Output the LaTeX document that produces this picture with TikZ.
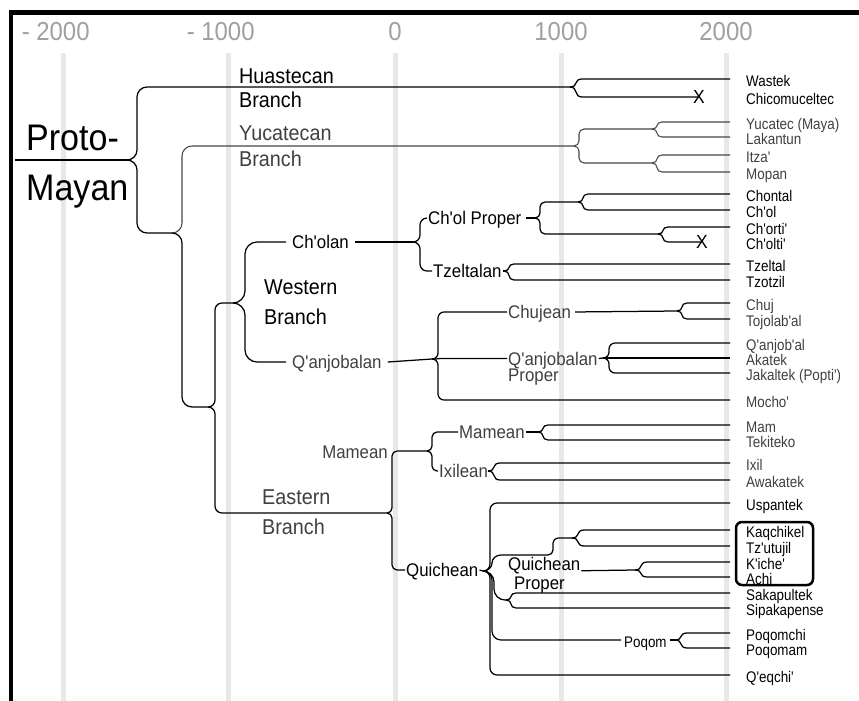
\documentclass[tikz,border=0pt]{standalone}
\usepackage{fontspec}
\setmainfont{Liberation Sans}[FakeStretch=0.92,Ligatures=TeXOff]
\newfontfamily\leaffam{Liberation Sans}[FakeStretch=0.87,Ligatures=TeXOff]
\usetikzlibrary{calc}
\definecolor{gridc}{RGB}{232,232,232}
\definecolor{yearc}{RGB}{160,160,160}
\definecolor{dimc}{RGB}{64,64,64}
\definecolor{dimline}{RGB}{70,70,70}
\newcommand{\leaffont}{\leaffam\fontsize{15.4}{17}\selectfont}
\newcommand{\midfont}{\fontsize{18.3}{20}\selectfont}
\tikzset{
  link/.style={line width=1.25pt, black},
  dimlink/.style={line width=1.05pt, dimline},
  arm/.style={to path={let \p1=(\tikztostart), \p2=(\tikztotarget),
      \n1={#1}, \n2={min(#1,abs(\y2-\y1)/2)}, \n3={sign(\y2-\y1)} in
      .. controls (\x1+0.552*\n1,\y1) and (\x1+\n1,\y1+0.448*\n2*\n3) .. (\x1+\n1,\y1+\n2*\n3)
      -- (\x1+\n1,\y2-\n2*\n3)
      .. controls (\x1+\n1,\y2-0.448*\n2*\n3) and (\x1+1.448*\n1,\y2) .. (\x1+2*\n1,\y2)
      -- (\p2)}},
  arm/.default=6,
  leaf/.style={font=\leaffont, anchor=west, inner sep=0pt, text height=14pt, text depth=0pt},
  tolabel/.style={shorten >=16pt},
  midlabel/.style={font=\midfont, inner ysep=0pt, inner xsep=1pt, text height=13.1pt, text depth=0pt},
  biglabel/.style={font=\fontsize{21.5}{24}\selectfont, align=left, anchor=west, inner sep=0pt},
  year/.style={font=\fontsize{26}{28}\selectfont, text=yearc, inner sep=0pt},
  xmark/.style={font=\fontsize{19}{20}\selectfont, inner sep=0pt},
  gridline/.style={gridc, line width=5pt},
  frameline/.style={black},
}
\begin{document}
\begin{tikzpicture}[x=1pt,y=-1pt]
\useasboundingbox (0,0) rectangle (859,701);
\fill[white] (0,0) rectangle (859,701);
% grid
\foreach \gx in {63,228,395,561,726} \draw[gridline] (\gx,53) -- (\gx,701);
% years
\node[year] (ym2) at (63,32) {\llap{- }2000};
\node[year] (ym1) at (228,32) {\llap{- }1000};
\node[year] (y0) at (395,32) {0};
\node[year] (y1) at (561,32) {1000};
\node[year] (y2) at (726,32) {2000};
% frame
\draw[frameline, line width=5pt] (9,12.5) -- (859,12.5);
\draw[frameline, line width=4pt] (11,10.5) -- (11,701);

% junctions
\coordinate (rs) at (15,160);
\coordinate (R) at (127,160);
\coordinate (H) at (570,87);
\coordinate (A) at (172,233);
\coordinate (Y) at (574,146);
\coordinate (YL) at (652,129);
\coordinate (IM) at (652,163);
\coordinate (B) at (208,407);
\coordinate (W) at (233,303);
\coordinate (C) at (413,242);
\coordinate (CP) at (535,218);
\coordinate (CC) at (578,202);
\coordinate (CO) at (658,234);
\coordinate (T) at (504,271);
\coordinate (Q) at (432,359);
\coordinate (CJ) at (677,311);
\coordinate (QP) at (603,358);
\coordinate (E) at (387,513);
\coordinate (M) at (427,451);
\coordinate (MM) at (538,432);
\coordinate (IX) at (488,471);
\coordinate (QC) at (483,571);
\coordinate (QPJ) at (548,555);
\coordinate (KT) at (572,538);
\coordinate (KA) at (635,570);
\coordinate (SS) at (506,600);
\coordinate (PQ) at (675,640);

% big labels
\node[biglabel, font=\fontsize{37}{50}\selectfont] (proto) at (26,167) {Proto-\\Mayan};
\node[biglabel] (huast) at (239,88) {Huastecan\\Branch};
\node[biglabel, text=dimc, font=\fontsize{21.5}{26}\selectfont] (yuca) at (239,146) {Yucatecan\\Branch};
\node[biglabel, font=\fontsize{21.5}{30}\selectfont] (west) at (264,302) {Western\\Branch};
\node[biglabel, text=dimc, font=\fontsize{21.5}{30}\selectfont] (east) at (262,512) {Eastern\\Branch};

% mid labels
\node[midlabel, inner xsep=6pt, anchor=west] (cholan) at (286,242) {Ch'olan};
\node[midlabel, inner xsep=6pt, anchor=west, text=dimc] (qanjobalan) at (286,362) {Q'anjobalan};
\node[midlabel, anchor=west] (cholproper) at (427,218) {Ch'ol Proper};
\node[midlabel, anchor=west] (tzeltalan) at (432,271) {Tzeltalan};
\node[midlabel, anchor=west, text=dimc] (chujean) at (507,312) {Chujean};
\node[midlabel, anchor=west, text=dimc] (qprop1) at (507,358.5) {Q'anjobalan};
\node[midlabel, anchor=west, text=dimc] (qprop2) at (507,375) {Proper};
\node[midlabel, anchor=east, text=dimc] (mamean1) at (389,452) {Mamean};
\node[midlabel, anchor=west, text=dimc] (mamean2) at (458,432) {Mamean};
\node[midlabel, anchor=west, text=dimc] (ixilean) at (438,471) {Ixilean};
\node[midlabel, anchor=west] (quichean) at (405,570) {Quichean};
\node[midlabel, anchor=west] (qp1) at (507,564) {Quichean};
\node[midlabel, anchor=west] (qp2) at (513,583) {Proper};
\node[leaf, inner xsep=3pt] (poqom) at (621,640) {Poqom};

% X marks
\node[xmark] (X1) at (699,97) {X};
\node[xmark] (X2) at (702,242) {X};

% leaves
\node[leaf] (Lwastek) at (746,79) {Wastek};
\node[leaf] (Lchico) at (746,97) {Chicomuceltec};
\node[leaf, text=dimc] (Lyucatec) at (746,122) {Yucatec (Maya)};
\node[leaf, text=dimc] (Llakantun) at (746,137) {Lakantun};
\node[leaf, text=dimc] (Litza) at (746,155) {Itza'};
\node[leaf, text=dimc] (Lmopan) at (746,172) {Mopan};
\node[leaf] (Lchontal) at (746,194) {Chontal};
\node[leaf] (Lchol) at (746,210) {Ch'ol};
\node[leaf] (Lchorti) at (746,227) {Ch'orti'};
\node[leaf] (Lcholti) at (746,242) {Ch'olti'};
\node[leaf] (Ltzeltal) at (746,264) {Tzeltal};
\node[leaf] (Ltzotzil) at (746,280) {Tzotzil};
\node[leaf, text=dimc] (Lchuj) at (746,303) {Chuj};
\node[leaf, text=dimc] (Ltojolabal) at (746,319) {Tojolab'al};
\node[leaf, text=dimc] (Lqanjobal) at (746,343) {Q'anjob'al};
\node[leaf, text=dimc] (Lakatek) at (746,358) {Akatek};
\node[leaf, text=dimc] (Ljakaltek) at (746,373) {Jakaltek (Popti')};
\node[leaf, text=dimc] (Lmocho) at (746,400) {Mocho'};
\node[leaf, text=dimc] (Lmam) at (746,425) {Mam};
\node[leaf, text=dimc] (Ltekiteko) at (746,440) {Tekiteko};
\node[leaf, text=dimc] (Lixil) at (746,463) {Ixil};
\node[leaf, text=dimc] (Lawakatek) at (746,480) {Awakatek};
\node[leaf] (Luspantek) at (746,503) {Uspantek};
\node[leaf] (Lkaqchikel) at (746,530) {Kaqchikel};
\node[leaf] (Ltzutujil) at (746,546) {Tz'utujil};
\node[leaf] (Lkiche) at (746,562) {K'iche'};
\node[leaf] (Lachi) at (746,577) {Achi};
\node[leaf] (Lsakapultek) at (746,593) {Sakapultek};
\node[leaf] (Lsipakapense) at (746,608) {Sipakapense};
\node[leaf] (Lpoqomchi) at (746,633) {Poqomchi};
\node[leaf] (Lpoqomam) at (746,648) {Poqomam};
\node[leaf] (Lqeqchi) at (746,675) {Q'eqchi'};

% box
\draw[line width=2.5pt, rounded corners=6pt] (736,522) rectangle (813,585);

% connectors
\draw[link] (rs) -- (R);
\draw[link] (R) to[arm=10] (H);
\draw[link] (R) to[arm=10] (A);
\draw[link, tolabel] (H) to[arm=6] (Lwastek.west);
\draw[link] (H) to[arm=6] (X1.center);

\draw[dimlink] (A) to[arm=10] (Y);
\draw[dimlink] (Y) to[arm=5] (YL);
\draw[dimlink] (Y) to[arm=5] (IM);
\draw[dimlink, tolabel] (YL) to[arm=5] (Lyucatec.west);
\draw[dimlink, tolabel] (YL) to[arm=5] (Llakantun.west);
\draw[dimlink, tolabel] (IM) to[arm=5] (Litza.west);
\draw[dimlink, tolabel] (IM) to[arm=5] (Lmopan.west);

\draw[link] (A) to[arm=10] (B);
\draw[link] (B) to[arm=7] (W);
\draw[link] (B) to[arm=7] (E);

\draw[link] (W) to[arm=12] (cholan.west);
\draw[link] (W) to[arm=12] (qanjobalan.west);
\draw[link] (cholan.east) -- (C);
\draw[link] (C) to[arm=7] (cholproper.west);
\draw[link] (C) to[arm=7] (tzeltalan.west);
\draw[link, shorten <=4pt] (cholproper.east) -- (CP);
\draw[link] (CP) to[arm=5] (CC);
\draw[link] (CP) to[arm=5] (CO);
\draw[link, tolabel] (CC) to[arm=5] (Lchontal.west);
\draw[link, tolabel] (CC) to[arm=5] (Lchol.west);
\draw[link, tolabel] (CO) to[arm=5] (Lchorti.west);
\draw[link] (CO) to[arm=5] (X2.center);
\draw[link] (tzeltalan.east) -- (T);
\draw[link, tolabel] (T) to[arm=5] (Ltzeltal.west);
\draw[link, tolabel] (T) to[arm=5] (Ltzotzil.west);

\draw[link] (qanjobalan.east) -- (Q);
\draw[link] (Q) to[arm=6] (chujean.west);
\draw[link] (Q) to[arm=6] (qprop1.west);
\draw[link, tolabel] (Q) to[arm=6] (Lmocho.west);
\draw[link, shorten <=3pt] (chujean.east) -- (CJ);
\draw[link, tolabel] (CJ) to[arm=5] (Lchuj.west);
\draw[link, tolabel] (CJ) to[arm=5] (Ltojolabal.west);
\draw[link] (qprop1.east) -- (QP);
\draw[link, tolabel] (QP) to[arm=6] (Lqanjobal.west);
\draw[link, tolabel] (QP) to[arm=6] (Lakatek.west);
\draw[link, tolabel] (QP) to[arm=6] (Ljakaltek.west);

\draw[link] (E) to[arm=5] (M);
\draw[link] (E) to[arm=5] (quichean.west);
\draw[link] (M) to[arm=5] (mamean2.west);
\draw[link] (M) to[arm=5] (ixilean.west);
\draw[link] (mamean2.east) -- (MM);
\draw[link, tolabel] (MM) to[arm=5] (Lmam.west);
\draw[link, tolabel] (MM) to[arm=5] (Ltekiteko.west);
\draw[link] (ixilean.east) -- (IX);
\draw[link, tolabel] (IX) to[arm=6] (Lixil.west);
\draw[link, tolabel] (IX) to[arm=6] (Lawakatek.west);

\draw[link] (quichean.east) -- (QC);
\draw[link, tolabel] (QC) to[arm=7] (Luspantek.west);
\draw[link] (QC) to[arm=9] (QPJ);
\draw[link] (QC) to[arm=11] (SS);
\draw[link] (QC) to[arm=9] (poqom.west);
\draw[link, tolabel] (QC) to[arm=7] (Lqeqchi.west);
\draw[link] (QPJ) to[arm=5] (KT);
\draw[link] (qp1.south east) -- (KA);
\draw[link, tolabel] (KT) to[arm=6] (Lkaqchikel.west);
\draw[link, tolabel] (KT) to[arm=6] (Ltzutujil.west);
\draw[link, tolabel] (KA) to[arm=6] (Lkiche.west);
\draw[link, tolabel] (KA) to[arm=6] (Lachi.west);
\draw[link, tolabel] (SS) to[arm=5] (Lsakapultek.west);
\draw[link, tolabel] (SS) to[arm=5] (Lsipakapense.west);
\draw[link] (poqom.east) -- (PQ);
\draw[link, tolabel] (PQ) to[arm=6] (Lpoqomchi.west);
\draw[link, tolabel] (PQ) to[arm=6] (Lpoqomam.west);
\end{tikzpicture}
\end{document}
